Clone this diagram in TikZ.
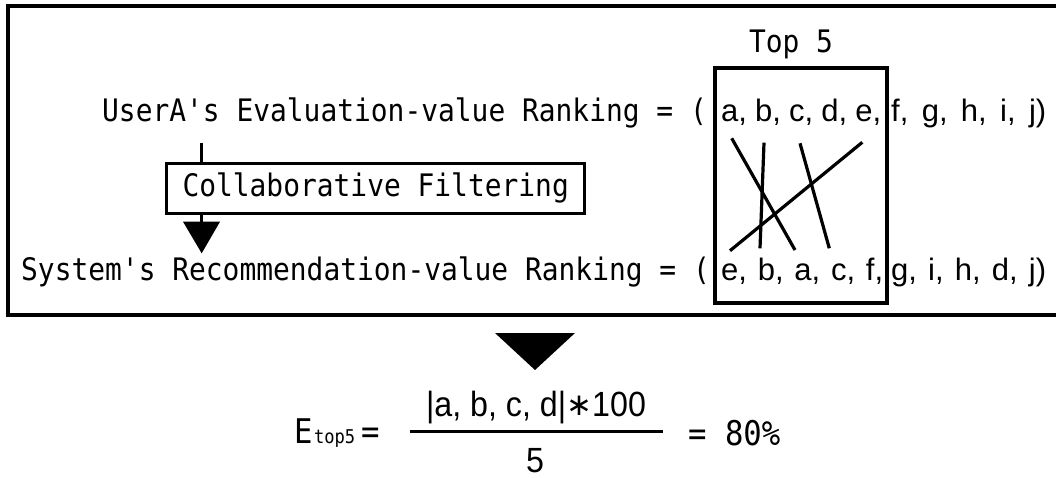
\documentclass[tikz,border=0pt]{standalone}
\usepackage{fontspec}
\newfontfamily\gm[FakeStretch=0.9]{DejaVu Sans Mono}
\newfontfamily\ls{Liberation Sans}
\newfontfamily\lsn[FakeStretch=0.92]{Liberation Sans}
\newfontfamily\dv{DejaVu Sans}
\begin{document}
\begin{tikzpicture}[x=1pt,y=-1pt,
  mono/.style={font=\gm\fontsize{31}{36}\selectfont, inner sep=0pt, anchor=base west},
  lett/.style={font=\ls\fontsize{31}{36}\selectfont, inner sep=0pt, anchor=base west},
  big/.style={font=\gm\fontsize{34}{40}\selectfont, inner sep=0pt, anchor=base west},
  thick line/.style={line width=3.5pt},
  cross/.style={line width=3.2pt},
  solidtri/.style={fill=black}]
\useasboundingbox (0,0) rectangle (1056,478);
\fill[white] (0,0) rectangle (1056,478);
% outer frame
\draw[thick line] (1056,6) -- (8,6) -- (8,315) -- (1056,315);
% top-5 box
\node[draw, line width=4pt, minimum width=172pt, minimum height=235pt, inner sep=0pt] (topbox) at (801,185.5) {};
\node[mono, anchor=base] (toplabel) at (791,53) {Top 5};
% rows
\node[mono] (r1) at (102,122) {UserA's Evaluation-value Ranking = (};
\node[mono] (r2) at (21,280) {System's Recommendation-value Ranking = (};
\node[lett] (l1a) at (721,122) {\makebox[160pt][s]{a, b, c, d, e,}};
\node[lett] (l1b) at (891,122) {\makebox[155pt][s]{f, g, h, i, j)}};
\node[lett] (l2a) at (721,280) {\makebox[162pt][s]{e, b, a, c, f,}};
\node[lett] (l2b) at (891,280) {\makebox[155pt][s]{g, i, h, d, j)}};
% crossing lines
\coordinate (ua) at (731.7,138.3); \coordinate (sa) at (795,250);
\coordinate (ub) at (764,142.7);   \coordinate (sb) at (760,248.3);
\coordinate (uc) at (800,143.3);   \coordinate (sc) at (829.3,248.3);
\coordinate (ue) at (862.3,142.3); \coordinate (se) at (730,250.7);
\draw[cross] (ua) -- (sa);
\draw[cross] (ub) -- (sb);
\draw[cross] (uc) -- (sc);
\draw[cross] (ue) -- (se);
% collaborative filtering
\node[draw, line width=3pt, font=\gm\fontsize{31}{36}\selectfont, inner xsep=16pt, inner ysep=0pt,
      minimum height=50pt, anchor=north west] (cf) at (165,161.7) {Collaborative Filtering};
\coordinate (cfin) at (201.7,143);
\coordinate (tipL) at (183,221.7);
\coordinate (tipR) at (220,221.7);
\coordinate (tip) at (201.7,253.3);
\draw[line width=3pt] (cfin) -- (cfin |- cf.north);
\draw[line width=3pt] (cfin |- cf.south) -- (cfin |- tipL);
\fill[solidtri] (tipL) -- (tipR) -- (tip) -- cycle;
% big triangle
\coordinate (bL) at (495,333); \coordinate (bR) at (575,333); \coordinate (bT) at (535,370);
\fill[solidtri] (bL) -- (bR) -- (bT) -- cycle;
% formula
\node[big] (E) at (294,443) {E};
\node[font=\gm\fontsize{19}{22}\selectfont, inner sep=0pt, anchor=base west] (sub) at ([xshift=1pt]E.base east) {top5};
\node[big] (eq1) at (361,443) {=};
\node[font=\lsn\fontsize{35}{40}\selectfont, inner sep=0pt, anchor=base] (num) at (536,416.7) {|a, b, c, d|{\dv\fontsize{31}{36}\selectfont\raisebox{1pt}{∗}}100};
\node[font=\lsn\fontsize{35}{40}\selectfont, inner sep=0pt, anchor=base] (den) at (535,472) {5};
\coordinate (barL) at (410,431.7); \coordinate (barR) at (663,431.7);
\draw[line width=3pt] (barL) -- (barR);
\node[big] (res) at (688,445) {= 80\%};
\end{tikzpicture}
\end{document}
